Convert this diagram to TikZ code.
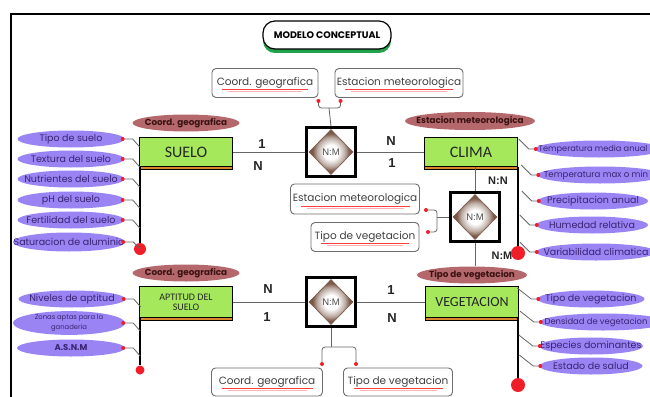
\documentclass[tikz,border=0pt]{standalone}
\usepackage{fontspec}
\setmainfont{Poppins}
\newfontfamily\calibf{Carlito}
\newfontfamily\arialf{Liberation Sans}
\usetikzlibrary{shapes.geometric,shadows,calc}
\definecolor{entgreen}{HTML}{A6E85C}
\definecolor{entorange}{HTML}{D9862E}
\definecolor{attrpurple}{HTML}{9A84F4}
\definecolor{attrtext}{HTML}{3A2472}
\definecolor{rosefill}{HTML}{B4686C}
\definecolor{rosetext}{HTML}{3A1212}
\definecolor{boxgray}{HTML}{6E6E6E}
\definecolor{dotred}{HTML}{F01E28}
\definecolor{diabrown}{HTML}{7A5848}
\definecolor{titlegreen}{HTML}{22A24A}
\pgfdeclareradialshading{diashade}{\pgfpoint{0bp}{0bp}}{color(0bp)=(white); color(8bp)=(white); color(16bp)=(diabrown!50); color(21bp)=(diabrown); color(50bp)=(diabrown)}
\newcommand\zw[1]{\makebox[0pt]{#1}}
\tikzset{
  entity/.style={draw=black, line width=0.8pt, fill=entgreen, minimum width=93pt, minimum height=29pt, inner sep=0pt,
    general shadow={fill=entorange, draw=black, line width=0.8pt, shadow yshift=-3pt},
    text=black!85},
  pattr/.style={ellipse, fill=attrpurple, minimum width=107pt, minimum height=17pt, inner sep=0pt,
    font=\fontsize{9.5}{10}\selectfont, text=attrtext},
  rattr/.style={ellipse, fill=rosefill, minimum width=107pt, minimum height=17pt, inner sep=0pt,
    font=\bfseries\fontsize{8.8}{9}\selectfont, text=rosetext},
  fkbox/.style={draw=boxgray, line width=0.9pt, rounded corners=4pt, fill=white, minimum height=29pt, inner sep=0pt,
    font=\fontsize{10.5}{11}\selectfont, text=black!75,
    path picture={
      \draw[red!75, line width=0.7pt] ($(path picture bounding box.south west)+(10pt,8pt)$) -- ($(path picture bounding box.south east)+(-10pt,8pt)$);
      \draw[red!30, line width=0.6pt] ($(path picture bounding box.south west)+(16pt,6pt)$) -- ($(path picture bounding box.south east)+(-16pt,6pt)$);}},
  relbox/.style={draw=black, line width=2.5pt, fill=white, minimum size=49pt, inner sep=0pt},
  reldia/.style={diamond, draw=diabrown, line width=0.6pt, shading=diashade,
    minimum width=44pt, minimum height=45pt, inner sep=0pt, font=\arialf\fontsize{9.5}{10}\selectfont, text=black!70},
  card/.style={font=\arialf\bfseries\fontsize{13}{13}\selectfont, text=black!85},
  smallcard/.style={font=\arialf\bfseries\fontsize{11}{11}\selectfont, text=black!85},
  conn/.style={draw=black!60, line width=0.8pt},
  spine/.style={draw=black, line width=1.8pt},
  sdot/.style={circle, fill=dotred, inner sep=0pt, minimum size=4pt},
  bdot/.style={circle, fill=dotred, inner sep=0pt, minimum size=12pt},
}
\begin{document}
\begin{tikzpicture}[x=1pt,y=-1pt]
\useasboundingbox (0,0) rectangle (650,396);
\clip (0,0) rectangle (650,396);
\fill[white] (0,0) rectangle (650,396);
% frame
\draw[black, line width=2.5pt] (11,420) -- (11,14) -- (670,14);

% title
\node[draw=black, line width=1.2pt, rounded corners=12pt, fill=white, minimum width=128pt, minimum height=28pt,
  general shadow={fill=titlegreen, shadow yshift=-4pt}, font=\bfseries\fontsize{9.5}{10}\selectfont] (title) at (327,35) {MODELO CONCEPTUAL};

% top fk boxes
\node[fkbox, minimum width=106pt] (fkA) at (265,83) {Coord. geografica};
\node[fkbox, minimum width=128pt] (fkB) at (399,83) {Estacion meteorologica};
\node[sdot] (dA) at ($(fkA.south east)+(0,3)$) {};
\node[sdot] (dB) at ($(fkB.south west)+(6,3)$) {};

% relationships
\node[relbox] (r1) at (331,152) {};
\node[reldia] (r1d) at (r1) {N:M};
\node[relbox] (r2) at (475,217) {};
\node[reldia] (r2d) at (r2) {N:M};
\node[relbox] (r3) at (331,302) {};
\node[reldia] (r3d) at (r3) {N:M};

% entities
\node[entity, font=\calibf\fontsize{16}{16}\selectfont] (suelo) at (186,152) {SUELO};
\node[entity, font=\calibf\fontsize{16}{16}\selectfont] (clima) at (471,152) {CLIMA};
\node[entity, minimum height=31pt, font=\calibf\fontsize{14}{14}\selectfont] (veg) at (472,302) {VEGETACION};
\node[entity, minimum height=31pt, align=center, font=\calibf\fontsize{10}{10}\selectfont] (apt) at (186,302) {APTITUD DEL\\SUELO};

% rose labels
\node[rattr] (rsuelo) at (186,123) {\zw{Coord. geografica}};
\node[rattr, minimum width=130pt, minimum height=18pt] (rclima) at (470,121) {\zw{Estacion meteorologica}};
\node[rattr, minimum width=110pt] (rveg) at (472,275) {\zw{Tipo de vegetacion}};
\node[rattr] (rapt) at (186,273) {\zw{Coord. geografica}};

% middle fk boxes
\node[fkbox, minimum width=129pt, minimum height=30pt] (fkC) at (355,199) {Estacion meteorologica};
\node[fkbox, minimum width=108pt] (fkD) at (365,237) {Tipo de vegetacion};
\node[sdot] (dC) at (426,210) {};
\node[sdot] (dD) at (428,232) {};

% bottom fk boxes
\node[fkbox, minimum width=111pt, minimum height=28pt] (fkE) at (267,382) {Coord. geografica};
\node[fkbox, minimum width=109pt, minimum height=28pt] (fkF) at (398,382) {Tipo de vegetacion};
\node[sdot] (dE) at (322,364) {};
\node[sdot] (dF) at (356,364) {};

% main connectors
\draw[conn] (suelo.east) -- (r1.west);
\draw[conn] (r1.east) -- (clima.west);
\draw[conn] (apt.east) -- (r3.west);
\draw[conn] (r3.east) -- (veg.west);
\draw[conn] (r2.north |- clima.south) -- (r2.north);
\draw[conn] (r2.south) -- (r2.south |- rveg.north);

% forks
\coordinate (f1) at (329,108);
\draw[conn, rounded corners=3pt] (dA) |- (f1) -| (dB);
\draw[conn] (f1) -- (r1.north);
\coordinate (f2) at (437,217);
\draw[conn, rounded corners=3pt] (dC) -| (f2) |- (dD);
\draw[conn] (f2) -- (r2.west);
\coordinate (f3) at (331,347);
\draw[conn] (r3.south) -- (f3);
\draw[conn, rounded corners=3pt] (dE) |- (f3) -| (dF);

% cardinalities
\node[card] (k1) at (262,144) {1};
\node[card] (k2) at (258,166) {N};
\node[card] (k3) at (391,141) {N};
\node[card] (k4) at (392,163) {1};
\node[card] (k5) at (268,289) {N};
\node[card] (k6) at (267,317) {1};
\node[card] (k7) at (391,290) {1};
\node[card] (k8) at (392,318) {N};
\node[smallcard] (k9) at (498,181) {N:N};
\node[smallcard] (k10) at (502,256) {N:M};

% spines
\node[bdot] (sdS) at (140,249) {};
\draw[spine] (sdS |- suelo.south) -- (sdS);
\node[bdot, minimum size=14pt] (sdC) at (518,253) {};
\draw[spine] (sdC |- clima.south) -- (sdC);
\node[bdot, minimum size=14pt] (sdV) at (518,385) {};
\draw[spine] (sdV |- veg.south) -- (sdV);
\node[bdot, minimum size=9pt] (sdA) at (140,370) {};
\draw[spine] (sdA |- apt.south) -- (sdA);

% SUELO attributes
\foreach \n/\t/\y in {s1/Tipo de suelo/139, s2/Textura del suelo/159, s3/Nutrientes del suelo/179, s4/pH del suelo/200, s5/Fertilidad del suelo/220} {
  \node[pattr] (\n) at (71,\y) {\zw{\t}};
  \draw[conn] (\n.east) -- ++(8,0) -- ++(7,8);
  \node[sdot] (\n-d) at ($(\n.east)+(-2,0)$) {};
}
\node[pattr, minimum width=112pt, minimum height=19pt] (s6) at (69,242) {\zw{Saturacion de aluminio}};
\draw[conn] (s6.east) -- ++(8,0) -- ++(7,7);
\node[sdot] (s6-d) at ($(s6.east)+(-2,0)$) {};

% APTITUD attributes
\node[pattr] (a1) at (72,299) {\zw{Niveles de aptitud}};
\draw[conn] (a1.east) -- ++(8,0) -- ++(7,8);
\node[sdot] (a1-d) at ($(a1.east)+(-2,0)$) {};
\node[pattr, minimum width=112pt, minimum height=20pt, font=\fontsize{6.8}{8}\selectfont] (a2) at (69,323) {\zw{\shortstack{Zonas aptas para la\\ganaderia}}};
\draw[conn] (a2.east) -- ++(8,0) -- ++(7,8);
\node[sdot] (a2-d) at ($(a2.east)+(-2,0)$) {};
\node[pattr, minimum width=108pt, font=\bfseries\fontsize{8.5}{9}\selectfont] (a3) at (71,348) {\zw{A.S.N.M}};
\draw[conn] (a3.east) -- ++(8,0) -- ++(7,8);
\node[sdot] (a3-d) at ($(a3.east)+(-2,0)$) {};

% CLIMA attributes
\foreach \n/\t/\y/\x/\w/\fs/\sh in {c1/Temperatura media anual/149/599/128/8.2/12, c2/Temperatura max o min/175/600/125/8.6/8, c3/Precipitacion anual/201/593/110/9.5/0, c4/Humedad relativa/225/592/112/9.5/0, c5/Variabilidad climatica/252/596/120/9.5/0} {
  \node[pattr, minimum width=\w pt] (\n) at (\x,\y) {\zw{\fontsize{\fs}{10}\selectfont\t\hspace{\sh pt}}};
  \draw[conn] (\n.west) -- ++(-6,0) -- ++(-10,-10);
  \node[sdot] (\n-d) at ($(\n.west)+(1,0)$) {};
}

% VEGETACION attributes
\foreach \n/\t/\y/\x/\w/\fs/\sh in {v1/Tipo de vegetacion/299/591/107/9.5/0, v2/Densidad de vegetacion/322/603/126/8.4/14, v3/Especies dominantes/346/591/104/9.5/0, v4/Estado de salud/366/591/103/9.5/0} {
  \node[pattr] (\n) at (\x,\y) [minimum width=\w pt] {\zw{\fontsize{\fs}{10}\selectfont\t\hspace{\sh pt}}};
  \draw[conn] (\n.west) -- ++(-6,0) -- ++(-14,-11);
  \node[sdot] (\n-d) at ($(\n.west)+(1,0)$) {};
}
\end{tikzpicture}
\end{document}
